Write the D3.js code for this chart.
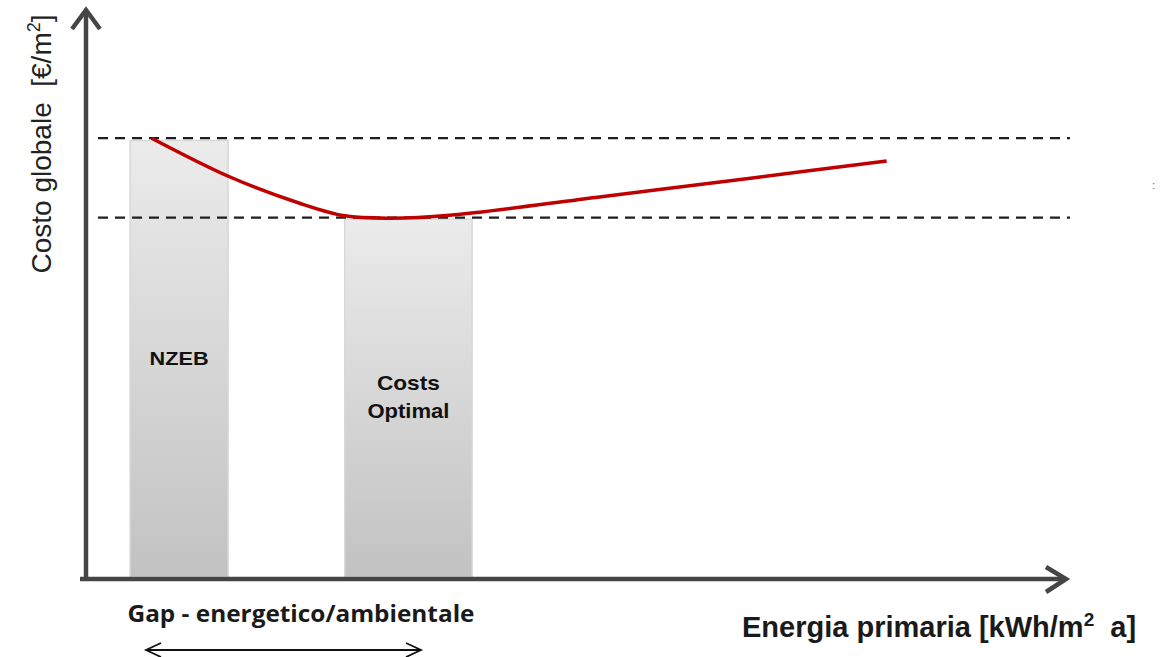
<!DOCTYPE html>
<html>
<head>
<meta charset="utf-8">
<script src="https://cdn.jsdelivr.net/npm/d3@7"></script>
<style>
  body { margin: 0; background: #fff; }
  svg { display: block; }
</style>
</head>
<body>
<svg id="chart" width="1161" height="657"></svg>
<script>
// curve of global cost vs primary energy (arbitrary units)
var curveEnergy = [6.7, 14.7, 21.8, 26.4, 31.0, 37.1, 52.4, 67.8, 81.7];
var curveCost   = [77.2, 70.4, 65.8, 63.6, 63.2, 63.7, 66.9, 70.2, 73.2];

// reference levels (dashed)
var levels = [77.2, 63.3];

// shaded zones
var zoneNames = ["NZEB", "Costs Optimal"];
var zoneStart = [4.5, 26.4];
var zoneEnd   = [14.5, 39.4];
var zoneTop   = [76.8, 63.0];

var width = 1161, height = 657;
var svg = d3.select("#chart");

var x = d3.scaleLinear().domain([0, 100]).range([86, 1066]);
var y = d3.scaleLinear().domain([0, 100]).range([579, 8]);

var defs = svg.append("defs");
var grad = defs.append("linearGradient")
    .attr("id", "zone-grad")
    .attr("x1", "0%").attr("y1", "0%")
    .attr("x2", "0%").attr("y2", "100%");
grad.append("stop").attr("offset", "0%").attr("stop-color", "#ebebeb");
grad.append("stop").attr("offset", "100%").attr("stop-color", "#c2c2c2");

var blur = defs.append("filter").attr("id", "soft")
    .attr("x", "-10%").attr("y", "-5%").attr("width", "120%").attr("height", "110%");
blur.append("feGaussianBlur").attr("stdDeviation", 0.7);

// ZONES
var zones = zoneNames.map(function(n, i) {
  return {name: n, x0: zoneStart[i], x1: zoneEnd[i], top: zoneTop[i]};
});
svg.append("g").selectAll("rect")
    .data(zones)
  .enter().append("rect")
    .attr("x", d => x(d.x0))
    .attr("y", d => y(d.top))
    .attr("width", d => x(d.x1) - x(d.x0))
    .attr("height", d => y(0) - 2 - y(d.top))
    .style("fill", "url(#zone-grad)")
    .style("stroke", "#d8d8d8")
    .style("stroke-width", 1.5)
    .attr("filter", "url(#soft)");

// DASHED LEVELS
svg.append("g").selectAll("line")
    .data(levels)
  .enter().append("line")
    .attr("x1", 98)
    .attr("x2", 1070)
    .attr("y1", d => y(d))
    .attr("y2", d => y(d))
    .style("stroke", "#1e1e1e")
    .style("stroke-width", 2.2)
    .style("stroke-dasharray", "10,7");

// CURVE
var line = d3.line()
    .x(d => x(d[0]))
    .y(d => y(d[1]))
    .curve(d3.curveCatmullRom.alpha(0.5));
svg.append("path")
    .datum(d3.zip(curveEnergy, curveCost))
    .attr("d", line)
    .style("fill", "none")
    .style("stroke", "#c00000")
    .style("stroke-width", 3.5);

// AXES
var axisColor = "#454545";
svg.append("line")
    .attr("x1", x(0)).attr("x2", x(0))
    .attr("y1", y(0) + 2).attr("y2", 10)
    .style("stroke", axisColor).style("stroke-width", 4.5);
svg.append("path")
    .attr("d", "M" + (x(0) - 14) + ",29L" + x(0) + ",10L" + (x(0) + 14) + ",29")
    .style("fill", "none").style("stroke", axisColor).style("stroke-width", 4.5);
svg.append("line")
    .attr("x1", 80).attr("x2", 1066)
    .attr("y1", y(0)).attr("y2", y(0))
    .style("stroke", axisColor).style("stroke-width", 4.5);
svg.append("path")
    .attr("d", "M1046," + (y(0) - 12) + "L1066," + y(0) + "L1046," + (y(0) + 13))
    .style("fill", "none").style("stroke", axisColor).style("stroke-width", 4.5);

// ZONE LABELS
svg.append("text")
    .attr("x", (x(zoneStart[0]) + x(zoneEnd[0])) / 2)
    .attr("y", 365)
    .attr("text-anchor", "middle")
    .attr("textLength", 59)
    .attr("lengthAdjust", "spacingAndGlyphs")
    .style("font-family", "Liberation Sans, Arial, sans-serif")
    .style("font-weight", "bold")
    .style("font-size", "18px")
    .style("fill", "#111")
    .text("NZEB");
var cx = (x(zoneStart[1]) + x(zoneEnd[1])) / 2;
[["Costs", 390, 63], ["Optimal", 418, 82]].forEach(function(t) {
  svg.append("text")
      .attr("x", cx)
      .attr("y", t[1])
      .attr("text-anchor", "middle")
      .attr("textLength", t[2])
      .attr("lengthAdjust", "spacingAndGlyphs")
      .style("font-family", "Liberation Sans, Arial, sans-serif")
      .style("font-weight", "bold")
      .style("font-size", "21px")
      .style("fill", "#111")
      .text(t[0]);
});

// AXIS TITLES
var yt = svg.append("text")
    .attr("transform", "translate(51,144) rotate(-90)")
    .attr("text-anchor", "middle")
    .style("white-space", "pre")
    .style("font-family", "Liberation Sans, Arial, sans-serif")
    .style("font-size", "28px")
    .style("fill", "#222");
yt.append("tspan").text("Costo globale  [€/m");
yt.append("tspan").attr("dy", -11).style("font-size", "18px").text("2");
yt.append("tspan").attr("dy", 11).text("]");

var xt = svg.append("text")
    .attr("x", 742)
    .attr("y", 637)
    .style("white-space", "pre")
    .style("font-family", "Liberation Sans, Arial, sans-serif")
    .style("font-weight", "bold")
    .style("font-size", "29px")
    .style("fill", "#1a1a1a");
xt.append("tspan").text("Energia primaria [kWh/m");
xt.append("tspan").attr("dy", -11).style("font-size", "19px").text("2");
xt.append("tspan").attr("dy", 11).text("  a]");

// GAP
svg.append("text")
    .attr("x", 301)
    .attr("y", 622)
    .attr("text-anchor", "middle")
    .attr("textLength", 347)
    .attr("lengthAdjust", "spacingAndGlyphs")
    .style("font-family", "Open Sans, sans-serif")
    .style("font-weight", 700)
    .style("font-size", "23px")
    .style("fill", "#1a1a1a")
    .text("Gap - energetico/ambientale");
svg.append("line")
    .attr("x1", 146).attr("x2", 421)
    .attr("y1", 650).attr("y2", 650)
    .style("stroke", "#111").style("stroke-width", 1.8);
svg.append("path")
    .attr("d", "M161,643L146,650L161,657M406,643L421,650L406,657")
    .style("fill", "none").style("stroke", "#111").style("stroke-width", 1.8);

// faint mark at the right edge
svg.append("text")
    .attr("x", 1152).attr("y", 189)
    .style("font-family", "Liberation Sans, Arial, sans-serif")
    .style("font-size", "11px")
    .style("fill", "#666")
    .text(":");
</script>
</body>
</html>
